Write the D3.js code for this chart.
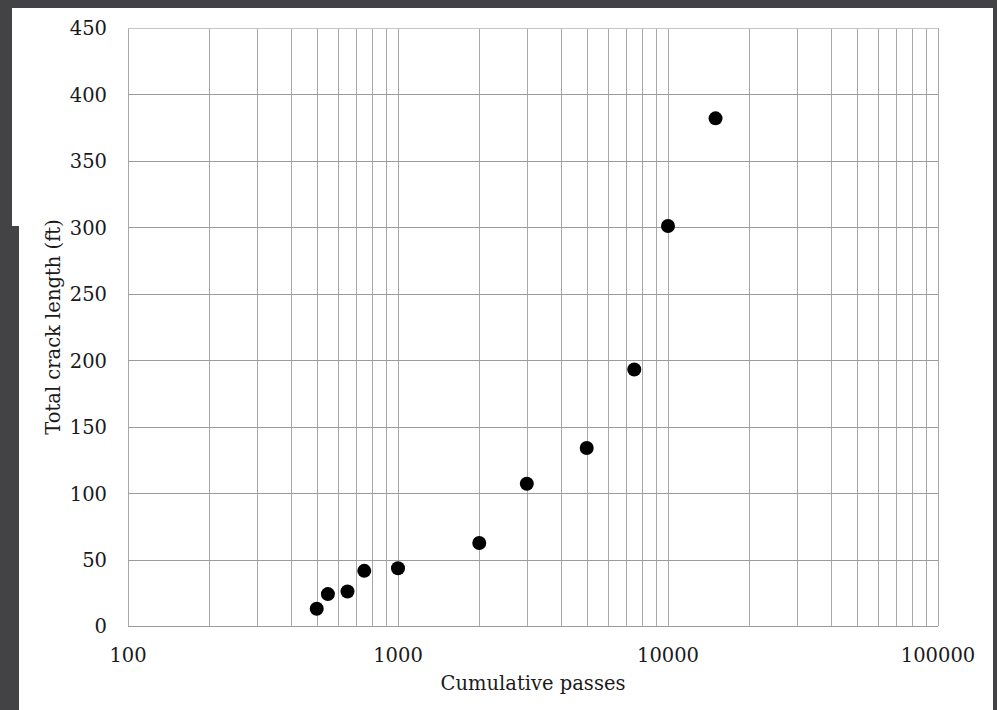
<!DOCTYPE html>
<html>
<head>
<meta charset="utf-8">
<script src="https://cdn.jsdelivr.net/npm/d3@7"></script>
<style>
  body { margin: 0; background: #434345; }
  svg text { font-family: "DejaVu Serif", "Liberation Serif", serif; fill: #1a1a1a; }
</style>
</head>
<body>
<div id="chart"></div>
<script>
var width = 997,
    height = 710,
    margin = {top: 28, right: 59, bottom: 84, left: 128};

// cumulative passes vs total crack length (ft)
var passes = [500, 550, 650, 750, 1000, 2000, 3000, 5000, 7500, 10000, 15000];
var crackLength = [13, 24, 26, 41.5, 43.5, 62.5, 107, 134, 193, 301, 382];
var xTicks = [100, 1000, 10000, 100000];
var yTicks = [0, 50, 100, 150, 200, 250, 300, 350, 400, 450];

var points = passes.map(function (p, i) {
    return {passes: p, crack: crackLength[i]};
});

var svg = d3.select("#chart").append("svg")
    .attr("width", width)
    .attr("height", height)
    .style("display", "block");

// dark frame with white sheet (sheet steps in on the left below y=226)
svg.append("rect")
    .attr("width", width).attr("height", height)
    .attr("fill", "#434345");
svg.append("path")
    .attr("d", "M12,8H993V710H19V226H12Z")
    .attr("fill", "#ffffff");

var x = d3.scaleLog()
    .domain([100, 100000])
    .range([margin.left, width - margin.right]);
var y = d3.scaleLinear()
    .domain([0, 450])
    .range([height - margin.bottom, margin.top]);

var g = svg.append("g");

// vertical log grid (1..9 per decade)
var minor = [];
for (var dec = 100; dec < 100000; dec *= 10) {
    for (var k = 1; k <= 9; k++) minor.push(dec * k);
}
minor.push(100000);

g.selectAll(".vgrid")
    .data(minor)
    .enter().append("line")
    .attr("class", "vgrid")
    .attr("x1", function (d) { return Math.round(x(d)) + 0.5; })
    .attr("x2", function (d) { return Math.round(x(d)) + 0.5; })
    .attr("y1", y(450))
    .attr("y2", y(0))
    .attr("stroke", "#a8a8a8")
    .attr("stroke-width", 1);

g.selectAll(".hgrid")
    .data(yTicks)
    .enter().append("line")
    .attr("class", "hgrid")
    .attr("x1", x(100))
    .attr("x2", x(100000))
    .attr("y1", function (d) { return Math.round(y(d)) + 0.5; })
    .attr("y2", function (d) { return Math.round(y(d)) + 0.5; })
    .attr("stroke", function (d) { return d === 450 ? "#c4c4c4" : "#9c9c9c"; })
    .attr("stroke-width", 1);

// y tick labels
g.selectAll(".ylab")
    .data(yTicks)
    .enter().append("text")
    .attr("class", "ylab")
    .attr("x", 107)
    .attr("y", function (d) { return y(d); })
    .attr("dy", "0.38em")
    .attr("text-anchor", "end")
    .style("font-size", "19.5px")
    .text(function (d) { return d; });

// x tick labels
g.selectAll(".xlab")
    .data(xTicks)
    .enter().append("text")
    .attr("class", "xlab")
    .attr("x", function (d) { return x(d); })
    .attr("y", 662)
    .attr("text-anchor", "middle")
    .style("font-size", "19.5px")
    .text(function (d) { return d; });

// axis titles
svg.append("text")
    .attr("x", (x(100) + x(100000)) / 2)
    .attr("y", 690)
    .attr("text-anchor", "middle")
    .style("font-size", "19.5px")
    .text("Cumulative passes");

svg.append("text")
    .attr("transform", "translate(60," + (y(0) + y(450)) / 2 + ") rotate(-90)")
    .attr("text-anchor", "middle")
    .style("font-size", "19.5px")
    .text("Total crack length (ft)");

// data points
g.selectAll(".pt")
    .data(points)
    .enter().append("circle")
    .attr("class", "pt")
    .attr("cx", function (d) { return x(d.passes); })
    .attr("cy", function (d) { return y(d.crack); })
    .attr("r", 7)
    .attr("fill", "#000000");
</script>
</body>
</html>
